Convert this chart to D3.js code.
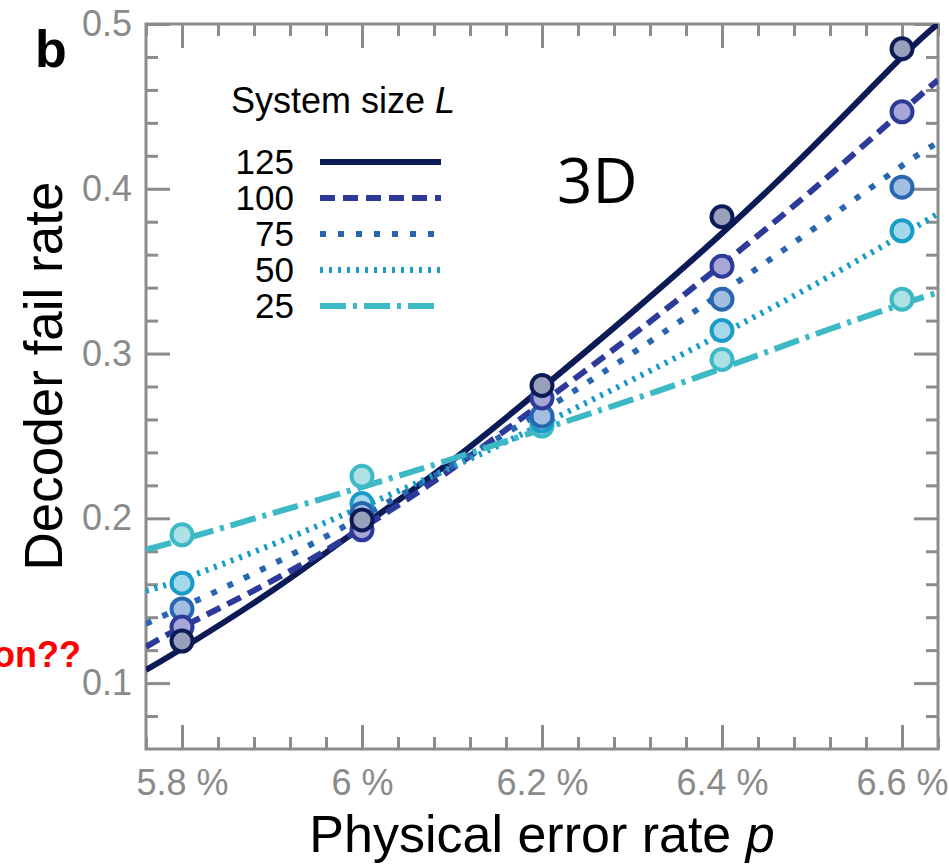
<!DOCTYPE html>
<html>
<head>
<meta charset="utf-8">
<script src="https://cdn.jsdelivr.net/npm/d3@7"></script>
<style>
body { margin: 0; background: #fff; }
svg { display: block; }
</style>
</head>
<body>
<div id="chart"></div>
<script>
// data
var sizes = [125, 100, 75, 50, 25];
var pointX = [5.8, 6.0, 6.2, 6.4, 6.6];
var points125 = [0.1255, 0.199, 0.2806, 0.383, 0.485];
var points100 = [0.134, 0.193, 0.273, 0.353, 0.4467];
var points75 = [0.145, 0.203, 0.262, 0.333, 0.401];
var points50 = [0.1606, 0.209, 0.259, 0.314, 0.3745];
var points25 = [0.190, 0.2255, 0.256, 0.2964, 0.333];

var fitX = [5.76, 5.8, 5.9, 6.0, 6.1, 6.2, 6.3, 6.4, 6.5, 6.6, 6.64];
var fit125 = [0.108, 0.121, 0.156, 0.195, 0.235, 0.279, 0.325, 0.373, 0.425, 0.480, 0.500];
var fit100 = [0.122, 0.134, 0.162, 0.194, 0.230, 0.270, 0.311, 0.354, 0.399, 0.447, 0.466];
var fit75 = [0.136, 0.146, 0.172, 0.201, 0.232, 0.265, 0.300, 0.337, 0.375, 0.414, 0.428];
var fit50 = [0.156, 0.163, 0.184, 0.207, 0.231, 0.257, 0.284, 0.312, 0.341, 0.372, 0.385];
var fit25 = [0.181, 0.187, 0.203, 0.219, 0.236, 0.254, 0.272, 0.291, 0.311, 0.330, 0.337];

var xTicks = [5.8, 6.0, 6.2, 6.4, 6.6];
var xTickLabels = ["5.8 %", "6 %", "6.2 %", "6.4 %", "6.6 %"];
var yTicks = [0.1, 0.2, 0.3, 0.4, 0.5];
var yTickLabels = ["0.1", "0.2", "0.3", "0.4", "0.5"];

// styles
var lineColors = ["#0c1a55", "#2e3a9a", "#2866b0", "#199cc7", "#3db9c5"];
var fillColors = ["#99a0bb", "#a6a7d6", "#a2bfe2", "#a5d8ea", "#ade1e6"];
var dashes = [null, "15,8", "6,12", "3,6", "26,7,4,7"];

var allPoints = [points125, points100, points75, points50, points25];
var allFits = [fit125, fit100, fit75, fit50, fit25];

var width = 949, height = 865;
var pLeft = 146, pRight = 938, pTop = 24, pBottom = 749;

var svg = d3.select("#chart").append("svg")
    .attr("width", width)
    .attr("height", height);

var x = d3.scaleLinear().domain([5.76, 6.64]).range([pLeft, pRight]);
var y = d3.scaleLinear().domain([0.06, 0.5]).range([pBottom, pTop]);

var xMinor = d3.range(5.76, 6.641, 0.04).filter(v => xTicks.every(t => Math.abs(t - v) > 1e-6));
var yMinor = d3.range(0.08, 0.5, 0.02).filter(v => yTicks.every(t => Math.abs(t - v) > 1e-6));

var grey = "#8c8c8c";
var tickFont = "'Liberation Sans', Arial, Helvetica, sans-serif";

function styleAxis(g) {
    g.select(".domain").remove();
    g.selectAll(".tick line").attr("stroke", grey).attr("stroke-width", 3);
    g.selectAll(".tick text").attr("fill", "#8a8a8a")
        .style("font-family", tickFont).style("font-size", "36px");
}

// bottom
svg.append("g").attr("transform", "translate(0," + pBottom + ")")
    .call(d3.axisBottom(x).tickValues(xTicks).tickSize(-24).tickPadding(20)
        .tickFormat((d, i) => xTickLabels[i]))
    .call(styleAxis);
svg.append("g").attr("transform", "translate(0," + pBottom + ")")
    .call(d3.axisBottom(x).tickValues(xMinor).tickSize(-12).tickFormat(""))
    .call(styleAxis);
// top
svg.append("g").attr("transform", "translate(0," + pTop + ")")
    .call(d3.axisTop(x).tickValues(xTicks).tickSize(-24).tickFormat(""))
    .call(styleAxis);
svg.append("g").attr("transform", "translate(0," + pTop + ")")
    .call(d3.axisTop(x).tickValues(xMinor).tickSize(-12).tickFormat(""))
    .call(styleAxis);
// left
svg.append("g").attr("transform", "translate(" + pLeft + ",0)")
    .call(d3.axisLeft(y).tickValues(yTicks).tickSize(-24).tickPadding(14)
        .tickFormat((d, i) => yTickLabels[i]))
    .call(styleAxis);
svg.append("g").attr("transform", "translate(" + pLeft + ",0)")
    .call(d3.axisLeft(y).tickValues(yMinor).tickSize(-12).tickFormat(""))
    .call(styleAxis);
// right
svg.append("g").attr("transform", "translate(" + pRight + ",0)")
    .call(d3.axisRight(y).tickValues(yTicks).tickSize(-24).tickFormat(""))
    .call(styleAxis);
svg.append("g").attr("transform", "translate(" + pRight + ",0)")
    .call(d3.axisRight(y).tickValues(yMinor).tickSize(-12).tickFormat(""))
    .call(styleAxis);

svg.append("rect")
    .attr("x", pLeft).attr("y", pTop)
    .attr("width", pRight - pLeft).attr("height", pBottom - pTop)
    .attr("fill", "none").attr("stroke", grey).attr("stroke-width", 3);

svg.append("clipPath").attr("id", "plotclip")
    .append("rect").attr("x", pLeft).attr("y", pTop)
    .attr("width", pRight - pLeft).attr("height", pBottom - pTop);

var line = d3.line()
    .x((d, i) => x(fitX[i]))
    .y(d => y(d))
    .curve(d3.curveNatural);

var plot = svg.append("g").attr("clip-path", "url(#plotclip)");

plot.selectAll("path.fit")
    .data(allFits)
    .enter()
    .append("path")
    .attr("class", "fit")
    .attr("d", d => line(d))
    .attr("fill", "none")
    .attr("stroke", (d, i) => lineColors[i])
    .attr("stroke-width", 6)
    .attr("stroke-dasharray", (d, i) => dashes[i]);

// markers: smallest L first so 125 ends on top
for (var s = sizes.length - 1; s >= 0; s--) {
    plot.selectAll("circle.s" + s)
        .data(allPoints[s])
        .enter()
        .append("circle")
        .attr("class", "s" + s)
        .attr("cx", (d, i) => x(pointX[i]))
        .attr("cy", d => y(d))
        .attr("r", 10.5)
        .attr("fill", fillColors[s])
        .attr("stroke", lineColors[s])
        .attr("stroke-width", 4);
}

// legend
var legend = svg.append("g");
legend.append("text")
    .attr("x", 231).attr("y", 113)
    .style("font-family", tickFont).style("font-size", "36px")
    .text("System size ")
    .append("tspan").style("font-style", "italic").text("L");

sizes.forEach(function (L, i) {
    var cy = 162 + i * 36;
    legend.append("text")
        .attr("x", 294).attr("y", cy + 12)
        .attr("text-anchor", "end")
        .style("font-family", tickFont).style("font-size", "35px")
        .text(L);
    legend.append("line")
        .attr("x1", 320).attr("x2", 441)
        .attr("y1", cy).attr("y2", cy)
        .attr("stroke", lineColors[i])
        .attr("stroke-width", 6)
        .attr("stroke-dasharray", dashes[i]);
});

// labels
svg.append("text")
    .attr("x", 542).attr("y", 852)
    .attr("text-anchor", "middle")
    .style("font-family", tickFont).style("font-size", "52px")
    .text("Physical error rate ")
    .append("tspan").style("font-style", "italic").text("p");

svg.append("text")
    .attr("transform", "translate(62,376) rotate(-90)")
    .attr("text-anchor", "middle")
    .style("font-family", tickFont).style("font-size", "53px")
    .text("Decoder fail rate");

svg.append("text")
    .attr("x", 35).attr("y", 67)
    .style("font-family", tickFont).style("font-size", "52px")
    .style("font-weight", "bold")
    .text("b");

svg.append("text")
    .attr("x", 557).attr("y", 203)
    .style("font-family", "'Open Sans', 'Noto Sans', sans-serif").style("font-size", "62px")
    .text("3D");

svg.append("text")
    .attr("x", 81).attr("y", 667)
    .attr("text-anchor", "end")
    .attr("fill", "#ff0000")
    .style("font-family", tickFont).style("font-size", "36px")
    .style("font-weight", "bold")
    .text("on??");
</script>
</body>
</html>
